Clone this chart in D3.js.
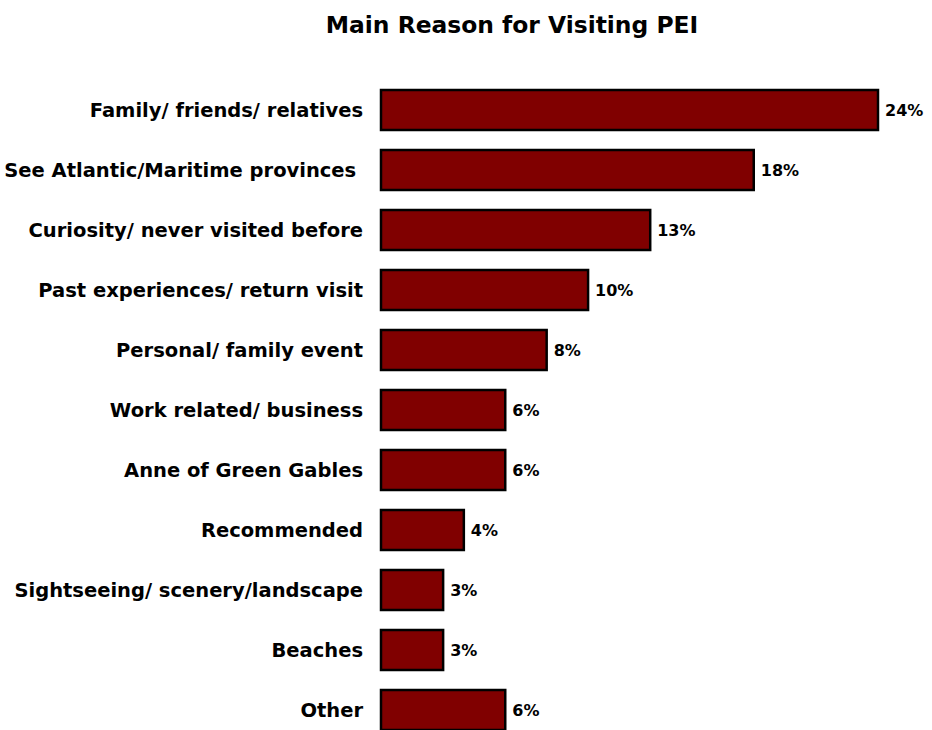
<!DOCTYPE html>
<html><head><meta charset="utf-8">
<script src="https://cdn.jsdelivr.net/npm/d3@7"></script>
<style>html,body{margin:0;padding:0;background:#fff;overflow:hidden}</style>
</head><body>
<script>
const categories = ["Family/ friends/ relatives","See Atlantic/Maritime provinces ","Curiosity/ never visited before","Past experiences/ return visit","Personal/ family event","Work related/ business","Anne of Green Gables","Recommended","Sightseeing/ scenery/landscape","Beaches","Other"];
const values = [24,18,13,10,8,6,6,4,3,3,6];
const valueLabels = ["24%","18%","13%","10%","8%","6%","6%","4%","3%","3%","6%"];
const title = "Main Reason for Visiting PEI";

const W = 932, H = 730;
const font = "Tahoma, 'DejaVu Sans', Verdana, sans-serif";
const svg = d3.select("body").append("svg").attr("width", W).attr("height", H);

const y = d3.scaleBand().domain(categories).range([80, 740]).paddingInner(1/3).paddingOuter(1/6);
const x = d3.scaleLinear().domain([0, 24]).range([381, 878]);

svg.append("text").attr("x", 512).attr("y", 33).attr("text-anchor", "middle")
  .attr("font-family", font).attr("font-weight", "bold").attr("font-size", 23.4).attr("fill", "#000").text(title);

const rows = svg.selectAll("g.row").data(categories.map((c,i)=>({c, v: values[i], l: valueLabels[i]}))).enter().append("g");

rows.append("rect")
  .attr("x", x(0)).attr("y", d => y(d.c))
  .attr("width", d => x(d.v) - x(0)).attr("height", y.bandwidth())
  .attr("fill", "#800000").attr("stroke", "#000").attr("stroke-width", 2.5);

rows.append("text")
  .attr("x", 363).attr("y", d => y(d.c) + y.bandwidth()/2)
  .attr("dy", "0.36em").attr("text-anchor", "end")
  .attr("font-family", font).attr("font-weight", "bold").attr("font-size", 19.5).attr("fill", "#000")
  .attr("xml:space", "preserve").style("white-space", "pre")
  .text(d => d.c);

rows.append("text")
  .attr("x", d => x(d.v) + 7).attr("y", d => y(d.c) + y.bandwidth()/2)
  .attr("dy", "0.36em").attr("text-anchor", "start")
  .attr("font-family", font).attr("font-weight", "bold").attr("font-size", 16).attr("fill", "#000")
  .text(d => d.l);
</script>
</body></html>
